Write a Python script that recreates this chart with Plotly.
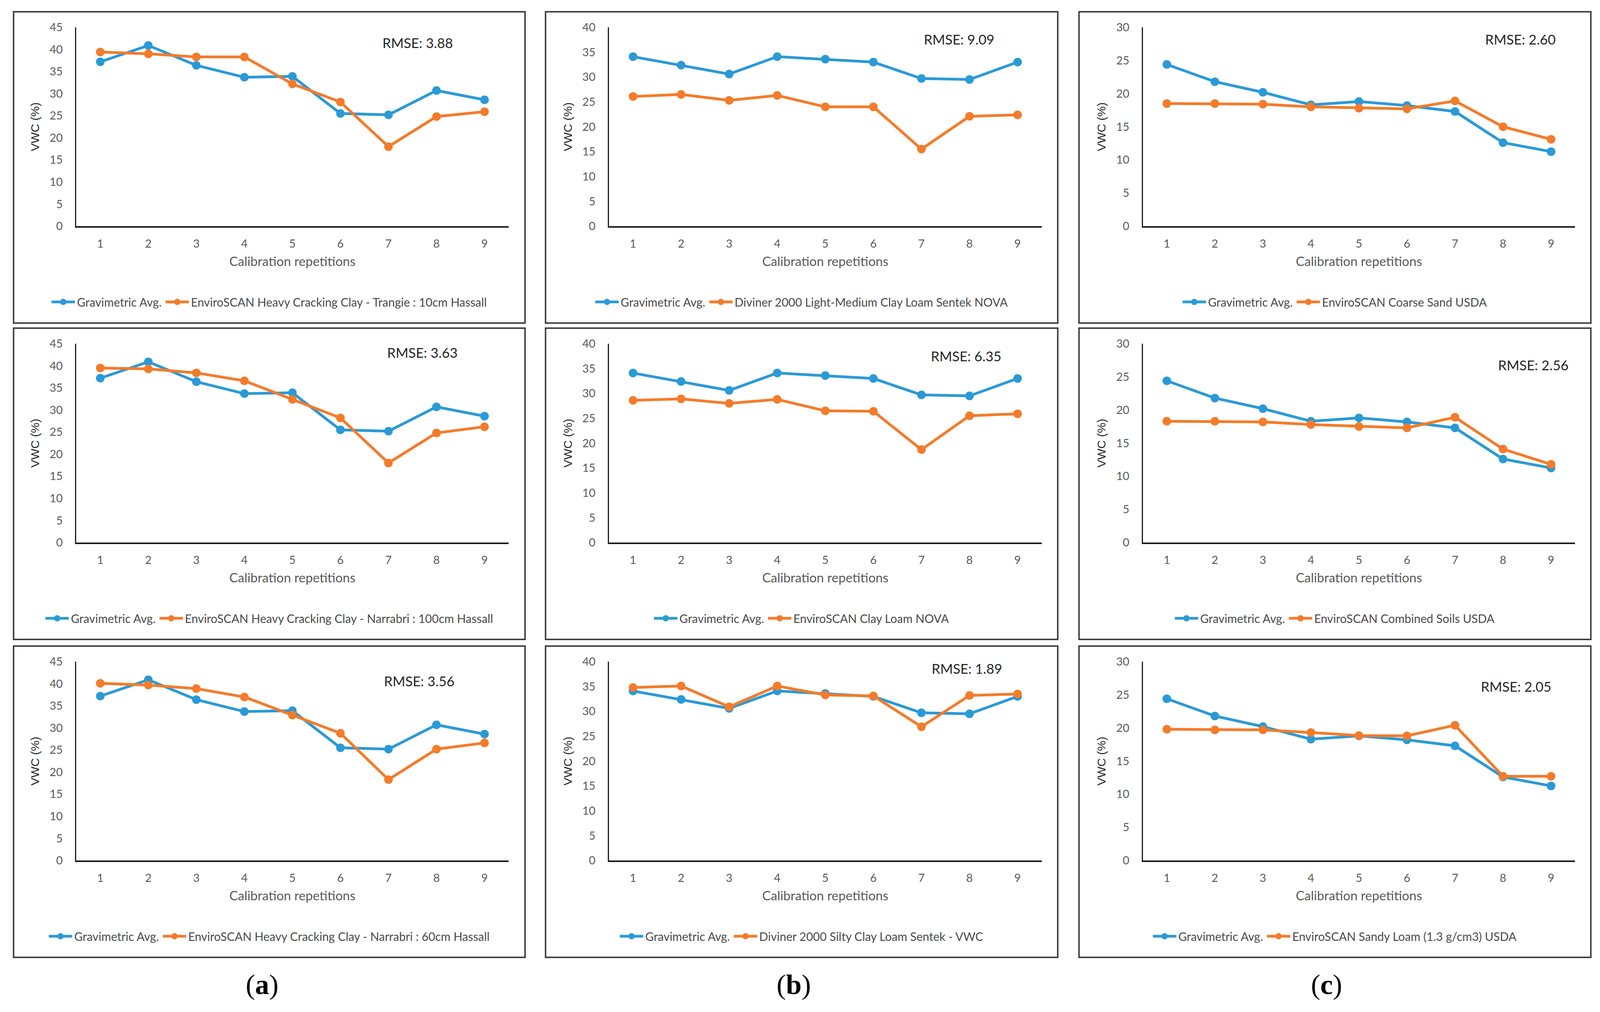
import plotly.graph_objects as go

# reference canvas (all positions below are given in reference pixels)
W, H = 4364, 2591

reps = [1, 2, 3, 4, 5, 6, 7, 8, 9]
tick_labels = ["1", "2", "3", "4", "5", "6", "7", "8", "9"]

grav_a = [37.2, 40.9, 36.4, 33.7, 33.9, 25.5, 25.2, 30.7, 28.6]
grav_b = [34.1, 32.4, 30.6, 34.1, 33.6, 33.0, 29.7, 29.5, 33.0]
grav_c = [24.4, 21.8, 20.2, 18.3, 18.8, 18.2, 17.3, 12.6, 11.25]

sensor_a1 = [39.4, 39.0, 38.3, 38.3, 32.2, 28.1, 18.0, 24.8, 25.9]
sensor_b1 = [26.1, 26.5, 25.3, 26.3, 24.0, 24.0, 15.5, 22.1, 22.4]
sensor_c1 = [18.5, 18.5, 18.4, 18.0, 17.8, 17.7, 18.9, 15.0, 13.1]
sensor_a2 = [39.5, 39.3, 38.4, 36.6, 32.4, 28.2, 18.0, 24.8, 26.2]
sensor_b2 = [28.6, 28.9, 28.0, 28.8, 26.5, 26.4, 18.7, 25.5, 25.9]
sensor_c2 = [18.3, 18.3, 18.2, 17.8, 17.5, 17.3, 18.9, 14.1, 11.8]
sensor_a3 = [40.1, 39.7, 38.9, 37.0, 32.9, 28.8, 18.3, 25.2, 26.6]
sensor_b3 = [34.8, 35.1, 30.9, 35.1, 33.3, 33.1, 26.9, 33.2, 33.5]
sensor_c3 = [19.8, 19.7, 19.7, 19.3, 18.85, 18.8, 20.4, 12.7, 12.7]

grav_name = "Gravimetric Avg."
sensor_names = [
    "EnviroSCAN Heavy Cracking Clay - Trangie : 10cm Hassall",
    "Diviner 2000 Light-Medium Clay Loam Sentek NOVA",
    "EnviroSCAN Coarse Sand USDA",
    "EnviroSCAN Heavy Cracking Clay - Narrabri : 100cm Hassall",
    "EnviroSCAN Clay Loam NOVA",
    "EnviroSCAN Combined Soils USDA",
    "EnviroSCAN Heavy Cracking Clay - Narrabri : 60cm Hassall",
    "Diviner 2000 Silty Clay Loam Sentek - VWC",
    "EnviroSCAN Sandy Loam (1.3 g/cm3) USDA",
]
rmse_labels = ["RMSE: 3.88", "RMSE: 9.09", "RMSE: 2.60",
               "RMSE: 3.63", "RMSE: 6.35", "RMSE: 2.56",
               "RMSE: 3.56", "RMSE: 1.89", "RMSE: 2.05"]
y_max = [45, 40, 30]
panel_letters = ["a", "b", "c"]

grav_cols = [grav_a, grav_b, grav_c]
sensors = [sensor_a1, sensor_b1, sensor_c1,
           sensor_a2, sensor_b2, sensor_c2,
           sensor_a3, sensor_b3, sensor_c3]

BLUE = "#2A9AD6"
ORANGE = "#F47B2A"
FONT = "Lato, Open Sans, sans-serif"
GRAY = "#595959"

# layout geometry in reference pixels
box_x = [(37, 1432), (1488, 2885), (2943, 4339)]
axis_x = [(208, 1387), (1661, 2841), (3117, 4296)]
box_top = [30, 840, 1654]
box_h = 797
rmse_pos = [(1140, 79), (2616, 70), (4147, 70),
            (1152, 62), (2635, 71), (4182, 94),
            (1144, 89), (2638, 57), (4135, 103)]
letter_x = [715, 2165, 3618]
letter_y = 2521


def px(x):
    return x / W


def py(y):
    return 1 - y / H


fig = go.Figure()
layout = dict(
    autosize=True,
    margin=dict(l=0, r=0, t=0, b=0, autoexpand=False),
    paper_bgcolor="white", plot_bgcolor="white",
    showlegend=True,
)
shapes = []
annotations = []

for r in range(3):
    for c in range(3):
        k = r * 3 + c + 1
        sfx = "" if k == 1 else str(k)
        xa, ya = "x" + sfx, "y" + sfx
        leg = "legend" + sfx
        fig.add_trace(go.Scatter(
            x=reps, y=grav_cols[c], mode="lines+markers", name=grav_name,
            line=dict(color=BLUE, width=7), marker=dict(size=22, color=BLUE),
            xaxis=xa, yaxis=ya, legend=leg))
        fig.add_trace(go.Scatter(
            x=reps, y=sensors[k - 1], mode="lines+markers", name=sensor_names[k - 1],
            line=dict(color=ORANGE, width=7), marker=dict(size=22, color=ORANGE),
            xaxis=xa, yaxis=ya, legend=leg))

        top = box_top[r]
        ptop, pbot = top + 40, top + 549
        layout["xaxis" + sfx] = dict(
            domain=[px(axis_x[c][0]), px(axis_x[c][1])],
            anchor=ya, range=[0.5, 9.5],
            tickmode="array", tickvals=reps, ticktext=tick_labels,
            showline=True, linecolor="#1a1a1a", linewidth=4,
            showgrid=False, zeroline=False, ticks="",
            ticklabelstandoff=16,
            tickfont=dict(family=FONT, size=29, color=GRAY),
            title=dict(text="Calibration repetitions", standoff=20,
                       font=dict(family=FONT, size=33, color=GRAY)),
            fixedrange=True,
        )
        layout["yaxis" + sfx] = dict(
            domain=[py(pbot), py(ptop)],
            anchor=xa, range=[0, y_max[c]], dtick=5, tick0=0,
            showline=True, linecolor="#1a1a1a", linewidth=2.5,
            showgrid=False, zeroline=False, ticks="",
            ticklabelstandoff=26,
            tickfont=dict(family=FONT, size=29, color=GRAY),
            title=dict(text="VWC (%)", standoff=18,
                       font=dict(family="Liberation Sans, Arial, sans-serif", size=30, color="#262626")),
            fixedrange=True,
        )
        layout[leg] = dict(
            orientation="h",
            x=px((box_x[c][0] + box_x[c][1]) / 2), xanchor="center",
            y=py(top + 743), yanchor="middle",
            font=dict(family=FONT, size=30, color="#4a4a4a"),
            bgcolor="rgba(0,0,0,0)", itemwidth=60,
        )
        shapes.append(dict(
            type="rect", xref="paper", yref="paper",
            x0=px(box_x[c][0]), x1=px(box_x[c][1]),
            y0=py(top + box_h), y1=py(top),
            line=dict(color="#3a3a3a", width=3.75), fillcolor="rgba(0,0,0,0)",
            layer="below"))
        rx, ry = rmse_pos[k - 1]
        annotations.append(dict(
            xref="paper", yref="paper", x=px(rx), y=py(top + ry),
            text=rmse_labels[k - 1], showarrow=False,
            xanchor="center", yanchor="middle",
            font=dict(family=FONT, size=35, color="#262626")))

for c in range(3):
    annotations.append(dict(
        xref="paper", yref="paper", x=px(letter_x[c]), y=py(letter_y),
        text="(<b>" + panel_letters[c] + "</b>)", showarrow=False,
        xanchor="center", yanchor="middle",
        font=dict(family="Liberation Serif, Times New Roman, serif", size=72, color="black")))

layout["shapes"] = shapes
layout["annotations"] = annotations
fig.update_layout(**layout)
fig.write_html(
    "out.html",
    default_width="100vw",
    default_height="100vh",
    config={"responsive": True, "displayModeBar": False},
    post_script=("document.body.style.margin='0';"
                 "document.documentElement.style.overflow='hidden';"
                 "document.body.style.overflow='hidden';"
                 "window.dispatchEvent(new Event('resize'));"),
)
